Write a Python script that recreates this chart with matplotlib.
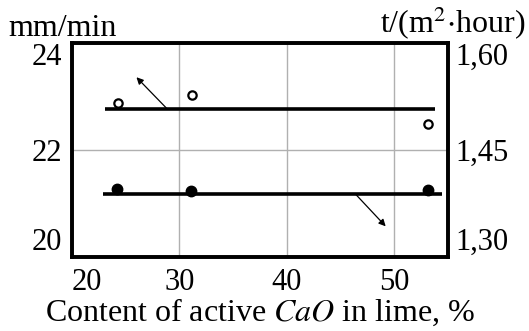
import matplotlib
matplotlib.use("Agg")
import matplotlib.pyplot as plt

plt.rcParams['font.family'] = ['Liberation Serif', 'DejaVu Serif']
plt.rcParams['mathtext.fontset'] = 'stix'

# Rate of the process (mm/min), left axis: open circles
cao_open = [24.3, 31.2, 53.1]
rate_open = [22.88, 23.03, 22.49]
rate_mean = 22.76
rate_span = [23.1, 53.8]

# Specific output t/(m2*hour), right axis: filled circles
cao_filled = [24.2, 31.1, 53.1]
out_filled = [1.396, 1.392, 1.394]
out_mean = 1.388
out_span = [22.9, 54.4]

x_ticks = [20, 30, 40, 50]
left_ticks = [20, 22, 24]
right_ticks = [1.30, 1.45, 1.60]
right_labels = ['1,30', '1,45', '1,60']

TICK_FS = 22
LABEL_FS = 23

fig = plt.figure(figsize=(5.29, 3.31), dpi=100)
ax = fig.add_axes([72/529, 1 - 257/331, (448 - 72)/529, (257 - 43)/331])
ax2 = ax.twinx()

ax.set_xlim(20, 55)
ax.set_ylim(20, 24)
ax2.set_ylim(1.30, 1.60)

ax.set_xticks(x_ticks)
ax.set_yticks(left_ticks)
ax2.set_yticks(right_ticks)
ax2.set_yticklabels(right_labels)

ax.grid(True, color='#b0b0b0', linewidth=1.0)
ax.set_axisbelow(True)

for a in (ax, ax2):
    for s in a.spines.values():
        s.set_linewidth(2.6)
        s.set_color('black')
ax.tick_params(axis='both', length=0, labelsize=TICK_FS, pad=7)
ax.tick_params(axis='x', pad=8)
ax2.tick_params(axis='y', length=0, labelsize=TICK_FS, pad=5)

yl = ax.get_yticklabels()
yl[0].set_va('bottom')
yl[-1].set_va('top')
yr = ax2.get_yticklabels()
yr[0].set_va('bottom')
yr[-1].set_va('top')
ax.get_xticklabels()[0].set_ha('left')

# upper series
ax.plot(rate_span, [rate_mean, rate_mean], color='black', linewidth=2.6, solid_capstyle='butt')
ax.plot(cao_open, rate_open, 'o', markersize=6, markerfacecolor='white',
        markeredgecolor='black', markeredgewidth=1.6, linestyle='none')

# lower series
ax2.plot(out_span, [out_mean, out_mean], color='black', linewidth=2.6, solid_capstyle='butt')
ax2.plot(cao_filled, out_filled, 'o', markersize=7.5, color='black', linestyle='none')

# arrows pointing to the corresponding axis
ax.annotate('', xy=(26.0, 23.36), xytext=(28.9, rate_mean),
            arrowprops=dict(arrowstyle='-|>', color='black', lw=0.9,
                            mutation_scale=10, shrinkA=0, shrinkB=0))
ax2.annotate('', xy=(49.2, 1.343), xytext=(46.4, out_mean),
             arrowprops=dict(arrowstyle='-|>', color='black', lw=0.9,
                             mutation_scale=10, shrinkA=0, shrinkB=0))

ax.set_xlabel('Content of active $\\mathit{CaO}$ in lime, %', fontsize=LABEL_FS, labelpad=0)

fig.text(8/529, 1 - 28/331, 'mm/min', fontsize=LABEL_FS, ha='left', va='center')
fig.text(525/529, 1 - 23/331, 't/(m$^2$$\\cdot$hour)', fontsize=LABEL_FS, ha='right', va='center')

fig.savefig('out.png', dpi=100)
